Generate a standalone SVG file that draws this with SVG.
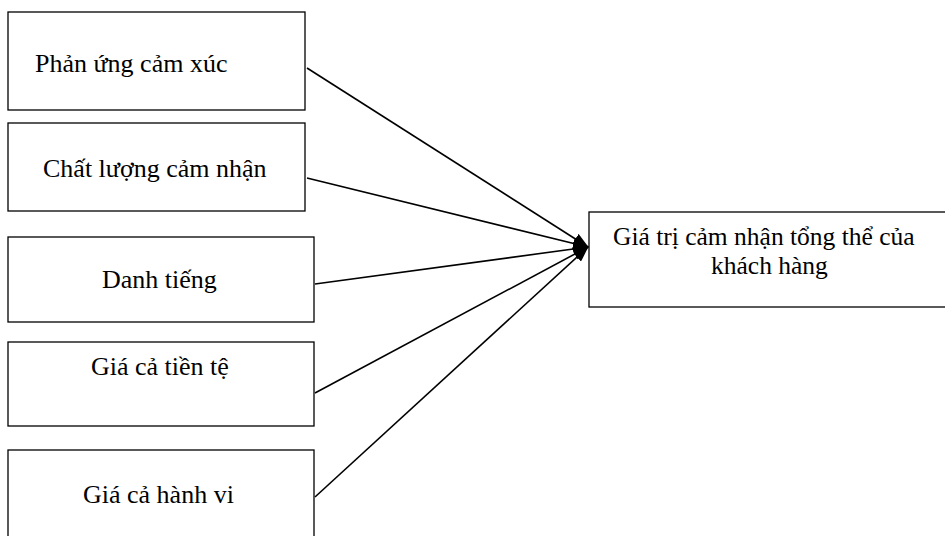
<svg xmlns="http://www.w3.org/2000/svg" width="945" height="536" viewBox="0 0 945 536">
  <style>
    .box { fill: #ffffff; stroke: #000000; stroke-width: 1.3; }
    .label { font-family: "Liberation Serif", "Times New Roman", serif; font-size: 26px; fill: #000000; }
    .label-sm { font-family: "Liberation Serif", "Times New Roman", serif; font-size: 25.5px; fill: #000000; }
    .link { stroke: #000000; stroke-width: 1.6; fill: none; marker-end: url(#head); }
  </style>
  <defs>
    <marker id="head" markerWidth="16" markerHeight="12" refX="15" refY="6" orient="auto" markerUnits="userSpaceOnUse">
      <path d="M0,0 L16,6 L0,12 Z" fill="#000000"/>
    </marker>
  </defs>

  <g id="connectors">
    <line class="link" x1="307" y1="68" x2="588" y2="247"/>
    <line class="link" x1="307" y1="178" x2="588" y2="247"/>
    <line class="link" x1="315" y1="284" x2="588" y2="247"/>
    <line class="link" x1="315" y1="393" x2="588" y2="247"/>
    <line class="link" x1="315" y1="497" x2="588" y2="247"/>
  </g>

  <g id="phan-ung-cam-xuc">
    <rect class="box" x="8" y="12" width="297" height="98"/>
    <text class="label" x="35" y="72">Phản ứng cảm xúc</text>
  </g>

  <g id="chat-luong-cam-nhan">
    <rect class="box" x="8" y="123" width="297" height="88"/>
    <text class="label" x="43" y="177">Chất lượng cảm nhận</text>
  </g>

  <g id="danh-tieng">
    <rect class="box" x="8" y="237" width="306" height="85"/>
    <text class="label" x="102" y="288">Danh tiếng</text>
  </g>

  <g id="gia-ca-tien-te">
    <rect class="box" x="8" y="342" width="306" height="84"/>
    <text class="label" x="91" y="375">Giá cả tiền tệ</text>
  </g>

  <g id="gia-ca-hanh-vi">
    <rect class="box" x="8" y="450" width="306" height="100"/>
    <text class="label" x="83" y="503">Giá cả hành vi</text>
  </g>

  <g id="gia-tri-cam-nhan">
    <rect class="box" x="589" y="212" width="370" height="95"/>
    <text class="label-sm" x="613" y="245">Giá trị cảm nhận tổng thể của</text>
    <text class="label-sm" x="711" y="274">khách hàng</text>
  </g>
</svg>
